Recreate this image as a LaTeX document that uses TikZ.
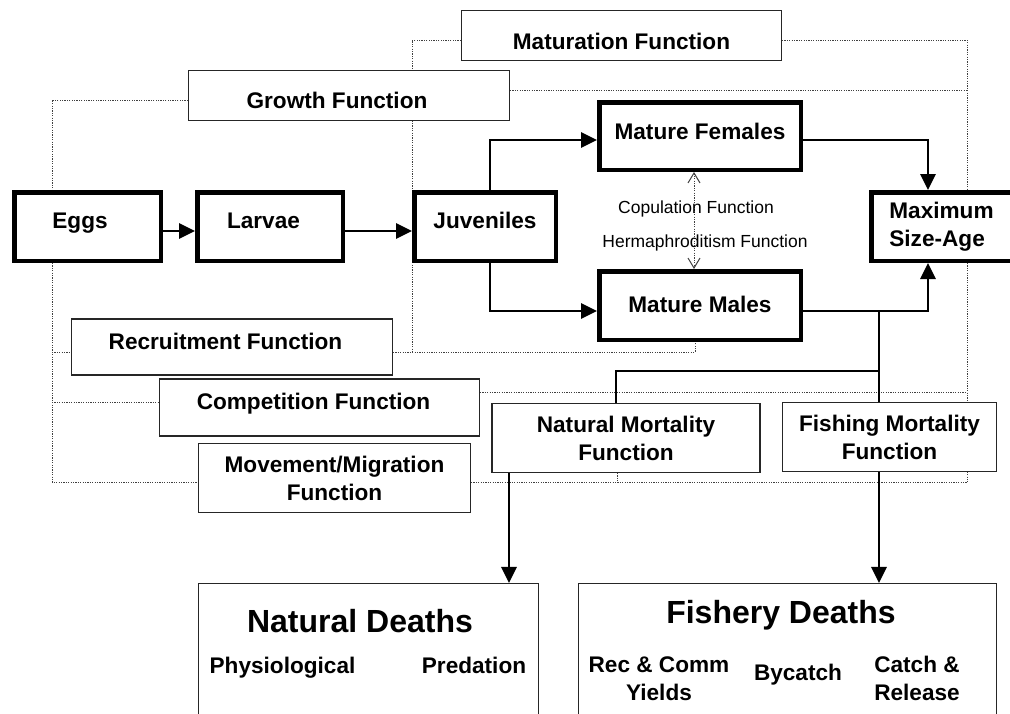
\documentclass[tikz,border=0pt]{standalone}
\usepackage{fontspec}
\setmainfont{Liberation Sans}
\usetikzlibrary{arrows.meta}
\pgfdeclarelayer{background}
\pgfsetlayers{background,main}
\newcommand\BoxFont{\fontsize{22.6}{28}\selectfont\bfseries}
\newcommand\TitleFont{\fontsize{32}{36}\selectfont\bfseries}
\newcommand\SmallFont{\fontsize{17.5}{21}\selectfont}
\begin{document}
\begin{tikzpicture}[x=1pt,y=-1pt,
  mbox/.style={draw=black, line width=4.5pt, fill=white, inner sep=0pt, font=\BoxFont},
  fbx/.style={draw=black!85, line width=1.5pt, fill=white, inner sep=0pt, font=\BoxFont},
  tb/.style={text height=30pt, text depth=#1},
  conn/.style={line width=2.8pt, -{Triangle[length=16pt,width=15pt]}},
  plainline/.style={line width=2.8pt},
  fb/.style={draw=black!75, line width=1pt, dash pattern=on 1.2pt off 1.2pt},
  dblbarb/.style={draw=black!75, line width=1pt, dash pattern=on 1.2pt off 1.2pt,
    {Straight Barb[length=10pt,width=12pt,line width=1pt]}-{Straight Barb[length=10pt,width=12pt,line width=1pt]}},
  txt/.style={inner sep=0pt, anchor=base},
]
\begin{pgfonlayer}{background}
\fill[white] (0,0) rectangle (1010,713);
\end{pgfonlayer}
\useasboundingbox (0,0) rectangle (1010,713);

% helper coordinates
\coordinate (lx) at (52,0);
\coordinate (tx) at (695,0);
\coordinate (ntx) at (617,0);
\coordinate (fx) at (879,0);
\coordinate (nax) at (509,0);
\coordinate (cx) at (694,0);
\coordinate (lrec) at (52,352);
\coordinate (lcomp) at (52,402);
\coordinate (lmov) at (52,482);
\coordinate (jtop) at (412,40);
\coordinate (jbot) at (412,352);
\coordinate (tk) at (695,352);
\coordinate (rtop) at (967,40);
\coordinate (rgrow) at (967,90);
\coordinate (rcomp) at (967,392);
\coordinate (rbot) at (967,482);
\coordinate (ntk) at (617,482);
\coordinate (split) at (879,311);
\coordinate (split2) at (879,371);

% main stage boxes
\node[mbox, minimum width=146.5pt, minimum height=68.5pt, tb=27pt] (eggs) at (87.5,226.5) {Eggs\hspace*{15pt}};
\node[mbox, minimum width=145.5pt, minimum height=68.5pt, tb=27pt] (larvae) at (270,226.5) {Larvae\hspace*{13pt}};
\node[mbox, minimum width=141.5pt, minimum height=68.5pt, tb=27pt] (juv) at (485,226.5) {Juveniles};
\node[mbox, minimum width=201.5pt, minimum height=67.5pt, tb=24pt] (fem) at (700,136) {Mature Females};
\node[mbox, minimum width=201.5pt, minimum height=68.5pt, tb=17pt] (males) at (700,305.5) {Mature Males};
\node[mbox, minimum width=140.5pt, minimum height=68.5pt, align=left] (max) at (941.5,226.5) {Maximum\\Size-Age};

% function boxes
\node[fbx, minimum width=319.6pt, minimum height=49.6pt, tb=3pt] (mat) at (621.5,35.5) {Maturation Function};
\node[fbx, minimum width=320.6pt, minimum height=49.6pt, tb=5pt] (grow) at (349,95.5) {Growth Function\hspace*{24pt}};
\node[fbx, minimum width=320.6pt, minimum height=48.6pt, tb=26pt] (rec) at (232,347) {Recruitment Function\hspace*{13pt}};
\node[fbx, minimum width=319.6pt, minimum height=47.6pt, tb=27pt] (comp) at (319.5,407.5) {Competition Function\hspace*{12pt}};
\node[fbx, minimum width=271.6pt, minimum height=68.6pt, align=center] (mov) at (334.5,478) {Movement/Migration\\Function};
\node[fbx, minimum width=267.6pt, minimum height=68.6pt, align=center] (natm) at (626,438) {Natural Mortality\\Function};
\node[fbx, minimum width=213.6pt, minimum height=68.6pt, align=center] (fishm) at (889.5,437) {Fishing Mortality\\Function};

% death boxes
\node[fbx, minimum width=339.6pt, minimum height=140.6pt] (nd) at (368.5,654) {};
\node[fbx, minimum width=417.6pt, minimum height=140.6pt] (fd) at (787.5,654) {};
\node[txt, font=\TitleFont] (ndt) at (360,632) {Natural Deaths};
\node[txt, font=\BoxFont] (phys) at (282.5,673) {Physiological};
\node[txt, font=\BoxFont] (pred) at (474,673) {Predation};
\node[txt, font=\TitleFont] (fdt) at (781,623) {Fishery Deaths};
\node[txt, font=\BoxFont] (rcy) at (659,672) {\begin{tabular}[t]{@{}c@{}}Rec \& Comm\\Yields\end{tabular}};
\node[txt, font=\BoxFont] (byc) at (798,680) {Bycatch};
\node[txt, font=\BoxFont] (cr) at (917,672) {\begin{tabular}[t]{@{}c@{}}Catch \&\\Release\end{tabular}};

% dotted function links (behind boxes)
\begin{pgfonlayer}{background}
\draw[fb] ([yshift=-4.5pt]grow.west) -| (eggs.north -| lx);
\draw[fb] (eggs.south -| lx) -- (lmov) -- ([yshift=-4pt]mov.west);
\draw[fb] (lrec) -- ([yshift=-5pt]rec.west);
\draw[fb] (lcomp) -- ([yshift=5.5pt]comp.west);
\draw[fb] ([yshift=-4.5pt]mat.west) -- (jtop) -- (jbot);
\draw[fb] ([yshift=-5pt]rec.east) -- (tk) -- (males.south -| tk);
\draw[fb] ([yshift=-4.5pt]mat.east) -- (rtop) -- (rbot);
\draw[fb] ([yshift=5.5pt]grow.east) -- (rgrow);
\draw[fb] ([yshift=15.5pt]comp.east) -- (rcomp);
\draw[fb] ([yshift=-4pt]mov.east) -- (rbot);
\draw[fb] (natm.south -| ntk) -- (ntk);
\end{pgfonlayer}

% copulation / hermaphroditism link
\draw[dblbarb] (fem.south -| cx) -- (males.north -| cx);
\node[txt, font=\SmallFont] (copl) at (696,213) {Copulation Function};
\node[txt, font=\SmallFont] (herl) at (705,247) {Hermaphroditism Function};

% solid connectors
\draw[conn] ([yshift=-4.5pt]eggs.east) -- ([yshift=-4.5pt]larvae.west);
\draw[conn] ([yshift=-4.5pt]larvae.east) -- ([yshift=-4.5pt]juv.west);
\draw[conn] ([xshift=5pt]juv.north) |- ([yshift=-4pt]fem.west);
\draw[conn] ([xshift=5pt]juv.south) |- ([yshift=-5.5pt]males.west);
\draw[conn] ([yshift=-4pt]fem.east) -| ([xshift=-13.5pt]max.north);
\draw[conn] ([yshift=-5.5pt]males.east) -| ([xshift=-13.5pt]max.south);
\draw[plainline] (split) -- (fishm.north -| fx);
\draw[plainline] (split2) -| ([xshift=-10pt]natm.north);
\draw[conn] (natm.south -| nax) -- (nd.north -| nax);
\draw[conn] (fishm.south -| fx) -- (fd.north -| fx);
\end{tikzpicture}
\end{document}
